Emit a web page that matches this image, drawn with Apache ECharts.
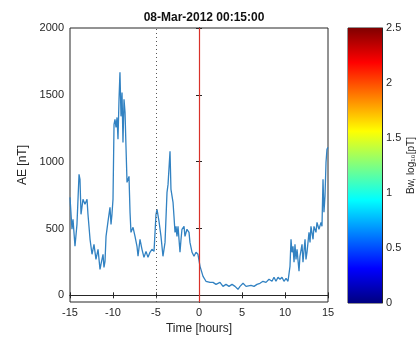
<!DOCTYPE html>
<html>
<head>
<meta charset="utf-8">
<script src="https://cdn.jsdelivr.net/npm/echarts@6/dist/echarts.min.js"></script>
<style>html,body{margin:0;padding:0;background:#fff}#c{width:420px;height:340px}</style>
</head>
<body>
<div id="c"></div>
<script>
var titleText = '08-Mar-2012 00:15:00';
var hours = [-15,-14.77,-14.65,-14.42,-14.19,-13.95,-13.84,-13.72,-13.49,-13.26,-13.02,-12.91,-12.67,-12.44,-12.21,-11.98,-11.74,-11.51,-11.4,-11.16,-11.05,-10.93,-10.81,-10.58,-10.35,-10.23,-10.12,-10.0,-9.88,-9.77,-9.65,-9.53,-9.42,-9.3,-9.19,-9.07,-8.95,-8.84,-8.72,-8.6,-8.49,-8.37,-8.14,-8.02,-7.91,-7.67,-7.44,-7.21,-7.09,-6.86,-6.63,-6.4,-6.16,-5.93,-5.7,-5.47,-5.23,-5.0,-4.88,-4.65,-4.42,-4.19,-3.95,-3.72,-3.6,-3.37,-3.26,-3.02,-2.91,-2.79,-2.67,-2.56,-2.44,-2.21,-2.09,-1.98,-1.74,-1.63,-1.4,-1.16,-1.05,-0.81,-0.58,-0.35,-0.12,0.12,0.47,0.81,1.28,1.63,1.98,2.44,2.79,3.14,3.49,3.84,4.19,4.53,4.77,5.12,5.47,5.7,6.05,6.4,6.74,7.09,7.44,7.79,8.14,8.49,8.72,8.95,9.19,9.42,9.65,9.88,10.12,10.35,10.58,10.7,10.81,10.93,11.05,11.16,11.28,11.4,11.63,11.74,11.98,12.09,12.33,12.44,12.56,12.79,12.91,13.02,13.26,13.37,13.6,13.72,13.95,14.19,14.3,14.42,14.53,14.65,14.77,14.88,15];
var aeValues = [733,494,568,367,531,905,868,606,718,681,718,606,419,307,381,269,344,194,232,307,209,254,441,553,658,531,606,718,1279,1316,1257,1331,1167,1466,1668,1339,1518,1144,1466,1369,1114,845,890,621,471,509,441,367,292,419,344,284,329,284,322,344,329,606,643,553,441,292,396,770,830,1077,793,696,591,471,516,441,516,322,419,494,516,441,494,471,396,322,292,322,307,217,142,105,97,97,82,97,67,82,67,82,67,45,67,90,67,60,75,67,82,90,105,97,120,105,135,105,135,120,135,105,127,105,217,419,322,367,247,381,269,344,180,292,381,247,419,269,322,471,396,516,419,516,471,546,494,546,516,868,621,741,995,1092,1107];
var xTicks = [-15,-10,-5,0,5,10,15];
var yTicks = [0,500,1000,1500,2000];
var cbTicks = [0,0.5,1,1.5,2,2.5];
var cbMax = 2.5;
var eventHour = 0;
var refHour = -5;
var jetStops = ['#800000','#ff0000','#ffff00','#00ffff','#0000ff','#000080'];
var jetOffsets = [0,0.125,0.375,0.625,0.875,1];

var lineData = hours.map(function(h,i){return [h, aeValues[i]];});
var txt = '#262626';
var font = 'Liberation Sans, Arial, sans-serif';

var chart = echarts.init(document.getElementById('c'), null, {renderer:'canvas'});
chart.setOption({
  animation:false,
  backgroundColor:'#fff',
  title:{text:titleText, left:199, textAlign:'center', top:7,
    textStyle:{fontFamily:font, fontSize:12, fontWeight:'bold', color:'#111'}},
  grid:[
    {left:70, top:28, width:258, height:274, show:true, borderColor:txt, borderWidth:1, backgroundColor:'#fff'},
    {left:348, top:28, width:34, height:275, show:true, borderColor:txt, borderWidth:1}
  ],
  xAxis:[
    {gridIndex:0, type:'value', min:-15, max:15, interval:5, name:'Time [hours]', nameLocation:'middle', nameGap:20,
     nameTextStyle:{fontFamily:font, fontSize:12, color:txt},
     axisLine:{show:true, lineStyle:{color:txt}}, axisTick:{inside:true, length:3, lineStyle:{color:txt}},
     axisLabel:{fontFamily:font, fontSize:11, color:txt, margin:5,
       formatter:function(v){return xTicks.indexOf(v)>=0 ? String(v) : '';}}, splitLine:{show:false}},
    {gridIndex:0, type:'value', position:'top', min:-15, max:15, interval:5,
     axisLine:{show:true, lineStyle:{color:txt}}, axisTick:{inside:true, length:3, lineStyle:{color:txt}},
     axisLabel:{show:false}, splitLine:{show:false}},
    {gridIndex:1, type:'category', data:['c'], show:false}
  ],
  yAxis:[
    {gridIndex:0, type:'value', min:-50, max:2000, name:'AE [nT]', nameLocation:'middle', nameGap:30,
     nameTextStyle:{fontFamily:font, fontSize:12, color:txt},
     axisLine:{show:true, lineStyle:{color:txt}},
     axisTick:{inside:true, length:3, lineStyle:{color:txt}, customValues:yTicks},
     axisLabel:{fontFamily:font, fontSize:11, color:txt, margin:6, customValues:yTicks,
       formatter:function(v){return String(v);}}, splitLine:{show:false}},
    {gridIndex:0, type:'value', position:'right', min:-50, max:2000,
     axisLine:{show:true, lineStyle:{color:txt}},
     axisTick:{inside:true, length:3, lineStyle:{color:txt}, customValues:yTicks},
     axisLabel:{show:false, customValues:yTicks}, splitLine:{show:false}},
    {gridIndex:1, type:'value', position:'right', min:0, max:cbMax, interval:0.5,
     name:'Bw, log\u2081\u2080[pT]', nameLocation:'middle', nameRotate:90, nameGap:24,
     nameTextStyle:{fontFamily:font, fontSize:10, color:txt},
     axisLine:{show:true, lineStyle:{color:txt}}, axisTick:{inside:true, length:3, lineStyle:{color:txt}},
     axisLabel:{fontFamily:font, fontSize:11, color:txt, margin:4,
       formatter:function(v){return cbTicks.indexOf(v)>=0 ? String(v) : '';}}, splitLine:{show:false}}
  ],
  series:[
    {type:'line', xAxisIndex:0, yAxisIndex:0, data:lineData, showSymbol:false, symbol:'none',
     lineStyle:{color:'#3282c2', width:1.3}, z:3,
     markLine:{silent:true, symbol:'none', label:{show:false}, animation:false,
       data:[
         {xAxis:eventHour, lineStyle:{color:'#d9322a', type:'solid', width:1.2}},
         {xAxis:refHour, lineStyle:{color:'#555', type:[1,3], width:1}}
       ]}},
    {type:'bar', xAxisIndex:2, yAxisIndex:2, data:[cbMax], barWidth:'100%',
     itemStyle:{color:{type:'linear', x:0, y:0, x2:0, y2:1,
       colorStops: jetStops.map(function(c,i){return {offset:jetOffsets[i], color:c};})}}}
  ]
});
</script>
</body>
</html>
